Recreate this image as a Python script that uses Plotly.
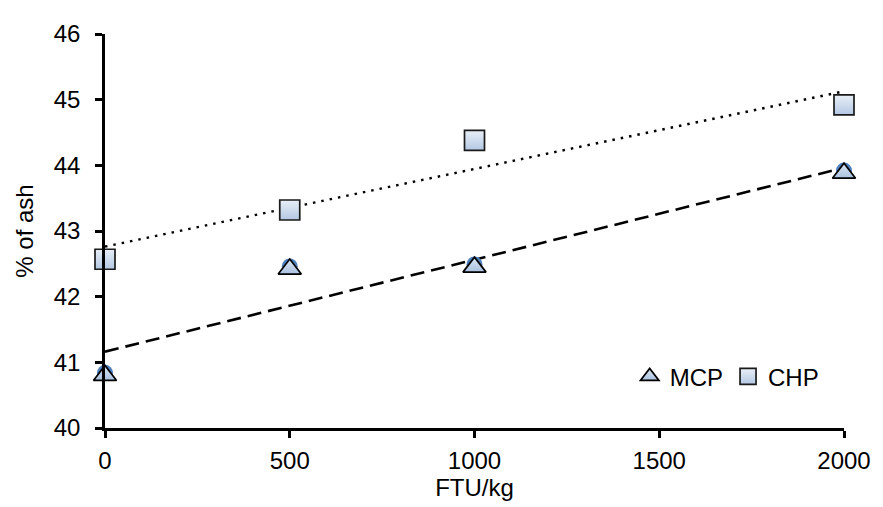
import numpy as np
import plotly.graph_objects as go

dose = [0, 500, 1000, 2000]
mcp = [40.80, 42.42, 42.45, 43.88]
chp = [42.57, 43.32, 44.38, 44.92]
x_ticks = [0, 500, 1000, 1500, 2000]
y_ticks = [40, 41, 42, 43, 44, 45, 46]

FONT = "Liberation Sans, Arial, sans-serif"
FS = 24

def trend(xs, ys):
    k, b = np.polyfit(xs, ys, 1)
    xe = [min(xs), max(xs)]
    return xe, [k * v + b for v in xe]

fig = go.Figure()

tx, ty = trend(dose, mcp)
fig.add_trace(go.Scatter(x=tx, y=ty, mode="lines", showlegend=False,
                         line=dict(color="black", width=2.6, dash="14px,7px"), hoverinfo="skip"))
tx, ty = trend(dose, chp)
fig.add_trace(go.Scatter(x=tx, y=ty, mode="lines", showlegend=False,
                         line=dict(color="black", width=2.5, dash="2.5px,6px"), hoverinfo="skip"))

# blue circles showing behind the triangles
fig.add_trace(go.Scatter(x=dose, y=[v + 0.04 for v in mcp], mode="markers", showlegend=False, cliponaxis=False,
                         marker=dict(symbol="circle", size=16, color="#4F81BD", line=dict(width=0)),
                         hoverinfo="skip"))

fig.add_trace(go.Scatter(x=dose, y=mcp, mode="markers", name="MCP", cliponaxis=False,
                         marker=dict(symbol="triangle-up", size=20, color="#DCE6F2",
                                     gradient=dict(type="vertical", color="#A9C1E0"),
                                     line=dict(color="black", width=1.7))))
fig.add_trace(go.Scatter(x=dose, y=chp, mode="markers", name="CHP", cliponaxis=False,
                         marker=dict(symbol="square", size=20, color="#E9EFF7",
                                     gradient=dict(type="vertical", color="#B3C8E3"),
                                     line=dict(color="#1a1a1a", width=1.7))))

# page body has an 8px margin; shrink the figure so the plot lands where the reference has it
fig.update_layout(
    width=875, height=499,
    margin=dict(l=97, r=32, t=18, b=75),
    paper_bgcolor="white", plot_bgcolor="white",
    font=dict(family=FONT, size=FS, color="black"),
    legend=dict(orientation="h", x=0.71, y=0.13, xanchor="left", yanchor="middle",
                font=dict(size=FS), bgcolor="rgba(0,0,0,0)", itemwidth=30, tracegroupgap=0),
    showlegend=True,
)
fig.update_xaxes(range=[0, 2000], tickvals=x_ticks, ticktext=[str(v) for v in x_ticks],
                 showgrid=False, zeroline=False, showline=True, linecolor="black", linewidth=2.5,
                 ticks="outside", ticklen=7, tickwidth=2.5, tickcolor="black",
                 ticklabelstandoff=2, ticklabeloverflow="allow",
                 title=dict(text="FTU/kg", font=dict(size=FS), standoff=5))
fig.update_yaxes(range=[40, 46], tickvals=y_ticks, ticktext=[str(v) for v in y_ticks],
                 showgrid=False, zeroline=False, showline=True, linecolor="black", linewidth=2.5,
                 ticks="outside", ticklen=7, tickwidth=2.5, tickcolor="black",
                 ticklabelstandoff=10,
                 title=dict(text="% of ash", font=dict(size=FS), standoff=14))

fig.write_html("out.html")
